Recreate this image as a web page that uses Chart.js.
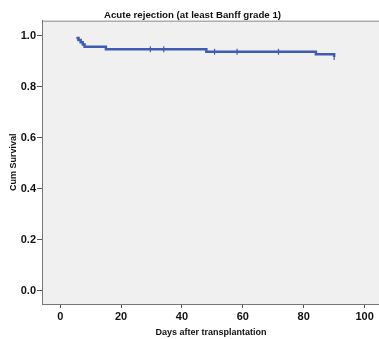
<!DOCTYPE html>
<html>
<head>
<meta charset="utf-8">
<script src="https://cdn.jsdelivr.net/npm/chart.js@4/dist/chart.umd.min.js"></script>
<style>
  html, body { margin: 0; padding: 0; background: #fff; overflow: hidden; }
  #wrap { width: 385px; height: 339px; position: relative; }
</style>
</head>
<body>
<div id="wrap"><canvas id="kmChart"></canvas></div>
<script>
// survival steps (days, cumulative survival)
var eventDays = [5.3, 6.0, 6.7, 7.4, 8.0, 15, 48, 84, 90];
var survival  = [0.991, 0.983, 0.974, 0.966, 0.957, 0.947, 0.937, 0.927, 0.917];
// censor marks
var censorDays = [29.6, 34, 50.7, 58.1, 71.7, 90];
var xTicks = [0, 20, 40, 60, 80, 100];
var yTicks = [0, 0.2, 0.4, 0.6, 0.8, 1.0];

var blue = '#3f5bb4';
var fontFam = "'Liberation Sans', Arial, sans-serif";

function survAt(day) {
    var s = 1;
    for (var i = 0; i < eventDays.length; i++) {
        if (eventDays[i] <= day) s = survival[i];
    }
    return s;
}

var curve = eventDays.map(function(d, i) { return { x: d, y: survival[i] }; });
var censored = censorDays.map(function(d) { return { x: d, y: survAt(d) }; });

// grey plot background + top frame line like SPSS
var plotFrame = {
    id: 'plotFrame',
    beforeDraw: function(chart) {
        var a = chart.chartArea, c = chart.ctx;
        c.save();
        c.fillStyle = '#f0f0f0';
        c.fillRect(a.left, a.top, a.right - a.left, a.bottom - a.top);
        c.strokeStyle = '#8a8a8a';
        c.lineWidth = 1;
        c.beginPath();
        c.moveTo(a.left, a.top + 0.5);
        c.lineTo(a.right, a.top + 0.5);
        c.stroke();
        c.restore();
    }
};

var ctx = document.getElementById('kmChart').getContext('2d');
var kmChart = new Chart(ctx, {
    type: 'line',
    data: {
        datasets: [
            {
                data: curve,
                borderColor: blue,
                borderWidth: 2.5,
                stepped: true,
                pointRadius: 0,
                fill: false
            },
            {
                data: censored,
                showLine: false,
                pointStyle: 'line',
                rotation: 90,
                pointRadius: 3,
                borderColor: blue,
                borderWidth: 1.2
            }
        ]
    },
    options: {
        responsive: true,
        maintainAspectRatio: false,
        animation: false,
        layout: { padding: 0 },
        plugins: {
            legend: { display: false },
            tooltip: { enabled: false },
            title: {
                display: true,
                text: 'Acute rejection (at least Banff grade 1)',
                color: '#111',
                font: { family: fontFam, size: 9.7, weight: 'bold', lineHeight: 1.1 },
                padding: { top: 10, bottom: 0 }
            }
        },
        scales: {
            x: {
                type: 'linear',
                min: -6,
                max: 105,
                afterFit: function(scale) { scale.height = 35; },
                afterBuildTicks: function(scale) {
                    scale.ticks = xTicks.map(function(v) { return { value: v }; });
                },
                grid: { drawOnChartArea: false, drawTicks: true, tickLength: 4, color: '#555' },
                border: { display: true, color: '#777', width: 1 },
                ticks: {
                    color: '#111',
                    padding: 2,
                    maxRotation: 0,
                    font: { family: fontFam, size: 11, weight: 'bold' }
                },
                title: {
                    display: true,
                    text: 'Days after transplantation',
                    color: '#111',
                    font: { family: fontFam, size: 9, weight: 'bold' },
                    padding: { top: 0, bottom: 1 }
                }
            },
            y: {
                min: -0.052,
                max: 1.059,
                afterFit: function(scale) { scale.width = 42; },
                afterBuildTicks: function(scale) {
                    scale.ticks = yTicks.map(function(v) { return { value: v }; });
                },
                grid: { drawOnChartArea: false, drawTicks: true, tickLength: 5, color: '#555' },
                border: { display: true, color: '#777', width: 1 },
                ticks: {
                    color: '#111',
                    padding: 1,
                    font: { family: fontFam, size: 11, weight: 'bold' },
                    callback: function(v) { return v.toFixed(1); }
                },
                title: {
                    display: true,
                    text: 'Cum Survival',
                    color: '#111',
                    font: { family: fontFam, size: 9, weight: 'bold' },
                    padding: { top: 8, bottom: 0 }
                }
            }
        }
    },
    plugins: [plotFrame]
});
</script>
</body>
</html>
